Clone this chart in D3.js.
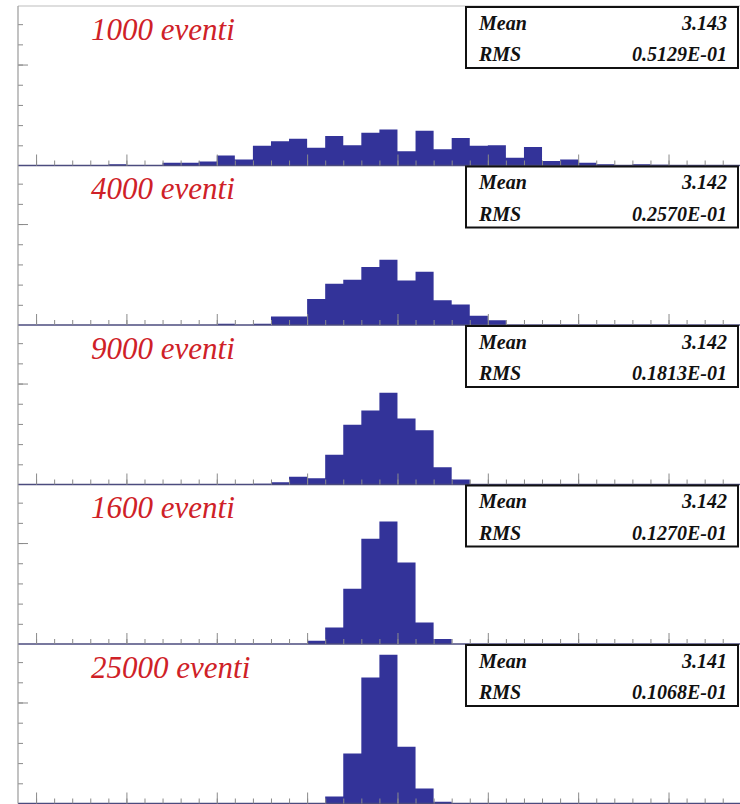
<!DOCTYPE html>
<html>
<head>
<meta charset="utf-8">
<script src="https://cdn.jsdelivr.net/npm/d3@7"></script>
<style>
  html, body { margin: 0; padding: 0; background: #fff; }
  svg { display: block; }
</style>
</head>
<body>
<svg id="chart" width="740" height="804"></svg>
<script>
// Histogram range: 40 bins of width 0.01 between 2.94 and 3.34
const xRange = [2.94, 3.34];
const binWidth = 0.01;

// Panel titles and statistics
const titles = ["1000 eventi", "4000 eventi", "9000 eventi", "1600 eventi", "25000 eventi"];
const means = ["3.143", "3.142", "3.142", "3.142", "3.141"];
const rmsValues = ["0.5129E-01", "0.2570E-01", "0.1813E-01", "0.1270E-01", "0.1068E-01"];

// Bin contents (40 bins each)
const counts1000 = [0,0,0,0,0,3,0,0,7,7, 10,25,15,49,60,66,44,73,50,81, 89,35,86,40,68,49,50,19,46,11, 15,7,3,0,3,2,0,0,0,0];
const counts4000 = [0,0,0,0,0,0,0,0,0,0, 0,13,0,13,85,85,257,409,448,574, 646,442,528,244,204,92,46,0,0,0, 0,0,0,0,0,0,0,0,0,0];
const counts9000 = [0,0,0,0,0,0,0,0,0,0, 0,0,0,16,51,172,140,662,1330,1649, 2043,1470,1210,385,111,0,0,0,0,0, 0,0,0,0,0,0,0,0,0,0];
const counts16000 = [0,0,0,0,0,0,0,0,0,0, 0,0,0,0,0,0,131,657,2190,4170, 4855,3231,855,198,0,0,0,0,0,0, 0,0,0,0,0,0,0,0,0,0];
const counts25000 = [0,0,0,0,0,0,0,0,0,0, 0,0,0,0,0,0,0,433,3094,7797, 9201,3508,928,105,0,0,0,0,0,0, 0,0,0,0,0,0,0,0,0,0];
const seriesCounts = [counts1000, counts4000, counts9000, counts16000, counts25000];

// Vertical axis settings for each panel
const yMax = [395, 1580, 3555, 6320, 9870];
const yTickStep = [50, 200, 450, 800, 1250];

const svg = d3.select("#chart");
const left = 18, right = 740.8;
const panelTop = 6, panelH = 159.5;
const serifFont = '"Liberation Serif"';

const x = d3.scaleLinear().domain(xRange).range([left, right]);
const nBins = Math.round((xRange[1] - xRange[0]) / binWidth);
const edges = d3.range(nBins + 1).map(i => +(xRange[0] + i * binWidth).toFixed(4));
const majorX = edges.filter((e, i) => i % 5 === 1);

const barColor = "#333399";
const tickColor = "#8a8a8a";

// top frame line
svg.append("line")
  .attr("x1", left).attr("x2", right)
  .attr("y1", panelTop).attr("y2", panelTop)
  .attr("stroke", "#bdbdbd").attr("stroke-width", 1);

seriesCounts.forEach((counts, p) => {
  const top = panelTop + p * panelH;
  const base = top + panelH;
  const y = d3.scaleLinear().domain([0, yMax[p]]).range([base, top]);
  const g = svg.append("g");

  // histogram body
  const pts = counts.map((c, i) => [edges[i], c]);
  pts.push([edges[nBins], counts[nBins - 1]]);
  const area = d3.area()
    .x(d => x(d[0]))
    .y0(base)
    .y1(d => y(d[1]))
    .curve(d3.curveStepAfter);
  g.append("path")
    .attr("d", area(pts))
    .attr("fill", barColor);

  // baseline of the histogram
  g.append("line")
    .attr("x1", left).attr("x2", right)
    .attr("y1", base).attr("y2", base)
    .attr("stroke", "#4b4b7e").attr("stroke-width", 1.6);

  // x ticks (minor at every bin edge, major every 0.05)
  const xMinor = g.append("g").attr("transform", `translate(0,${base})`)
    .call(d3.axisBottom(x).tickValues(edges.slice(1, -1)).tickSize(-5).tickFormat(""));
  const xMajor = g.append("g").attr("transform", `translate(0,${base})`)
    .call(d3.axisBottom(x).tickValues(majorX).tickSize(-11).tickFormat(""));
  [xMinor, xMajor].forEach(a => {
    a.select(".domain").remove();
    a.selectAll(".tick line").attr("stroke", tickColor).attr("stroke-width", 1);
  });

  // y ticks
  const yMinorVals = d3.range(yTickStep[p], yMax[p], yTickStep[p]);
  const yMajorVals = d3.range(yTickStep[p] * 5, yMax[p], yTickStep[p] * 5);
  const yMinor = g.append("g").attr("transform", `translate(${left},0)`)
    .call(d3.axisLeft(y).tickValues(yMinorVals).tickSize(-5).tickFormat(""));
  const yMajor = g.append("g").attr("transform", `translate(${left},0)`)
    .call(d3.axisLeft(y).tickValues(yMajorVals).tickSize(-10).tickFormat(""));
  [yMinor, yMajor].forEach(a => {
    a.select(".domain").remove();
    a.selectAll(".tick line").attr("stroke", tickColor).attr("stroke-width", 1);
  });

  // panel title
  g.append("text")
    .attr("x", 91).attr("y", top + 33.5)
    .style("font-family", serifFont)
    .style("font-style", "italic")
    .attr("font-size", 31)
    .attr("fill", "#cf2127")
    .text(titles[p]);

  // statistics box
  const bx = 466, bw = 272, by = top + 1, bh = 61;
  g.append("rect")
    .attr("x", bx).attr("y", by).attr("width", bw).attr("height", bh)
    .attr("fill", "#fff").attr("stroke", "#111").attr("stroke-width", 2);
  const rows = [["Mean", means[p], 23.5], ["RMS", rmsValues[p], 55]];
  rows.forEach(([label, val, dy]) => {
    g.append("text")
      .attr("x", bx + 13).attr("y", by + dy - 1)
      .style("font-family", serifFont)
      .style("font-style", "italic").style("font-weight", "bold")
      .attr("font-size", 20).attr("fill", "#111")
      .text(label);
    g.append("text")
      .attr("x", bx + 261).attr("y", by + dy - 1)
      .attr("text-anchor", "end")
      .style("font-family", serifFont)
      .style("font-style", "italic").style("font-weight", "bold")
      .attr("font-size", 20).attr("fill", "#111")
      .text(val);
  });
});

// left axis line
svg.append("line")
  .attr("x1", left).attr("x2", left)
  .attr("y1", panelTop).attr("y2", panelTop + 5 * panelH)
  .attr("stroke", "#9a9a9a").attr("stroke-width", 1.2);
</script>
</body>
</html>
